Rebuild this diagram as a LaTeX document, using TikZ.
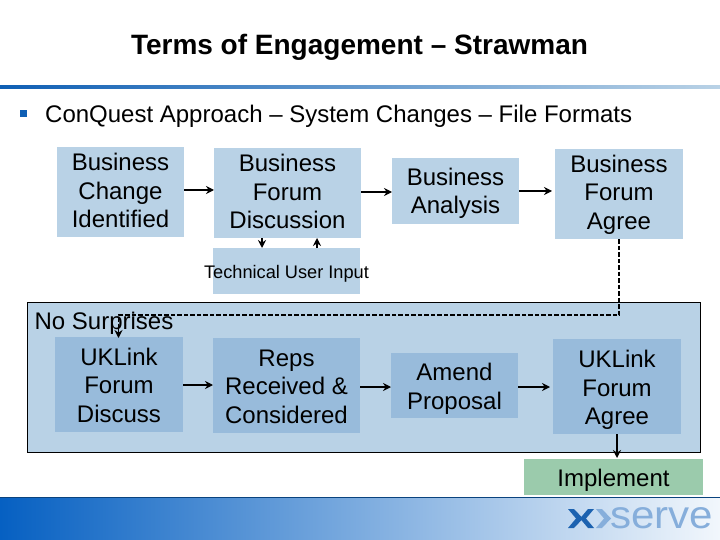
\documentclass[tikz,border=0pt]{standalone}
\usepackage{fontspec}
\setmainfont{Liberation Sans}
\usetikzlibrary{arrows.meta,calc}
\definecolor{boxblue}{HTML}{B9D2E6}
\definecolor{innerblue}{HTML}{98BBDB}
\definecolor{implgreen}{HTML}{9BCBAC}
\definecolor{bulletblue}{HTML}{0F5FB4}
\definecolor{footdark}{HTML}{0660C2}
\definecolor{footlight}{HTML}{F2F7FC}
\definecolor{logodark}{HTML}{1C62B0}
\definecolor{logolight}{HTML}{86AEDB}
\tikzset{
  x=1pt,y=-1pt,
  bodytext/.style={font=\fontsize{24}{28.5}\selectfont,align=center,text=black},
  flow/.style={draw=black,line width=1.6pt,-{Stealth[length=8pt,width=8pt]}},
  dashflow/.style={draw=black,line width=1.6pt,dash pattern=on 4.5pt off 2pt},
}
\newcommand{\boxat}[8]{% name, x1,y1,x2,y2,colour,text offset,text
  \fill[#6] (#2,#3) rectangle (#4,#5);
  \node[bodytext,inner sep=0pt] (#1) at ({(#2+#4)/2},{(#3+#5)/2+#7}) {#8};
  \coordinate (#1 L) at (#2,{(#3+#5)/2});
  \coordinate (#1 R) at (#4,{(#3+#5)/2});
}
\begin{document}
\begin{tikzpicture}
\useasboundingbox (0,0) rectangle (720,540);
\fill[white] (0,0) rectangle (720,540);
\node[font=\fontsize{28}{32}\selectfont\bfseries,inner sep=0pt] (title) at (359.5,47) {Terms of Engagement – Strawman};
\shade[left color=bulletblue,right color=boxblue] (0,86) rectangle (720,89);
\fill[bulletblue] (20,110) rectangle (27,117);
\node[bodytext,anchor=west,inner sep=0pt] (head) at (45,116) {ConQuest Approach – System Changes – File Formats};
\fill[boxblue,draw=black,line width=1pt] (27.5,302.5) rectangle (700,452.5);
\boxat{a}{57}{147}{184}{237}{boxblue}{-1.5}{Business\\Change\\Identified}
\boxat{b}{214}{148}{361}{238}{boxblue}{-1.5}{Business\\Forum\\Discussion}
\boxat{c}{392}{158}{519}{224}{boxblue}{2.5}{Business\\Analysis}
\boxat{d}{555}{149}{683}{239}{boxblue}{0.5}{Business\\Forum\\Agree}
\fill[boxblue] (213,248) rectangle (360,294);
\node[font=\fontsize{18.2}{21}\selectfont,inner sep=0pt] (t) at (286.5,273.5) {Technical User Input};
\boxat{e}{55}{337}{183}{432}{innerblue}{0.5}{UKLink\\Forum\\Discuss}
\boxat{f}{213}{338}{360}{433}{innerblue}{1}{Reps\\Received \&\\Considered}
\boxat{g}{391}{353}{518}{418}{innerblue}{3.5}{Amend\\Proposal}
\boxat{h}{553}{339}{681}{434}{innerblue}{3.5}{UKLink\\Forum\\Agree}
\boxat{i}{524}{459}{703}{495}{implgreen}{3.5}{Implement}
\node[bodytext,inner sep=0pt] (n) at (104,323.5) {No Surprises};
\draw[flow] (a R) ++(0,-2) -- +(30,0);
\draw[flow] (b R |- c L) ++(0,1) -- (c L |- 0,192);
\draw[flow] (c R) -- +(33,0);
\draw[flow] (e R) ++(0,0.5) -- +(30,0);
\draw[flow] (f R) ++(0,1.5) -- +(31,0);
\draw[flow] (g R) ++(0,1.5) -- +(32,0);
\coordinate (tb1) at (262,238);
\coordinate (tb2) at (262,248);
\coordinate (tb3) at (317,248);
\coordinate (tb4) at (317,238);
\draw[flow] (tb1) -- (tb2);
\draw[flow] (tb3) -- (tb4);
\coordinate (d1) at (619,239);
\coordinate (d2) at (619,315);
\coordinate (d3) at (118.5,315);
\coordinate (d4) at (118.5,338);
\draw[dashflow] (d1) -- (d2) -- (d3) -- (118.5,328);
\draw[flow] (118.5,326) -- (d4);
\coordinate (h1) at (617,434);
\coordinate (h2) at (617,458);
\draw[flow] (h1) -- (h2);
\shade[left color=footdark,right color=footlight] (0,498) rectangle (720,540);
\draw[draw=bulletblue!70!black,line width=0.7pt] (0,497.5) -- (720,497.5);
\fill[logodark] (568,509) -- (574,509) -- (583,518.5) -- (574,528) -- (568,528) -- (576,518.5) -- cycle;
\fill[logodark] (594,509) -- (588,509) -- (580,518.5) -- (588,528) -- (594,528) -- (586,518.5) -- cycle;
\fill[logolight] (596,509) -- (602,509) -- (611,518.5) -- (602,528) -- (596,528) -- (604,518.5) -- cycle;
\node[font=\fontsize{39}{39}\selectfont,text=logolight,anchor=base west,inner sep=0pt,xscale=1.08] (logo) at (610,528) {serve};
\end{tikzpicture}
\end{document}
